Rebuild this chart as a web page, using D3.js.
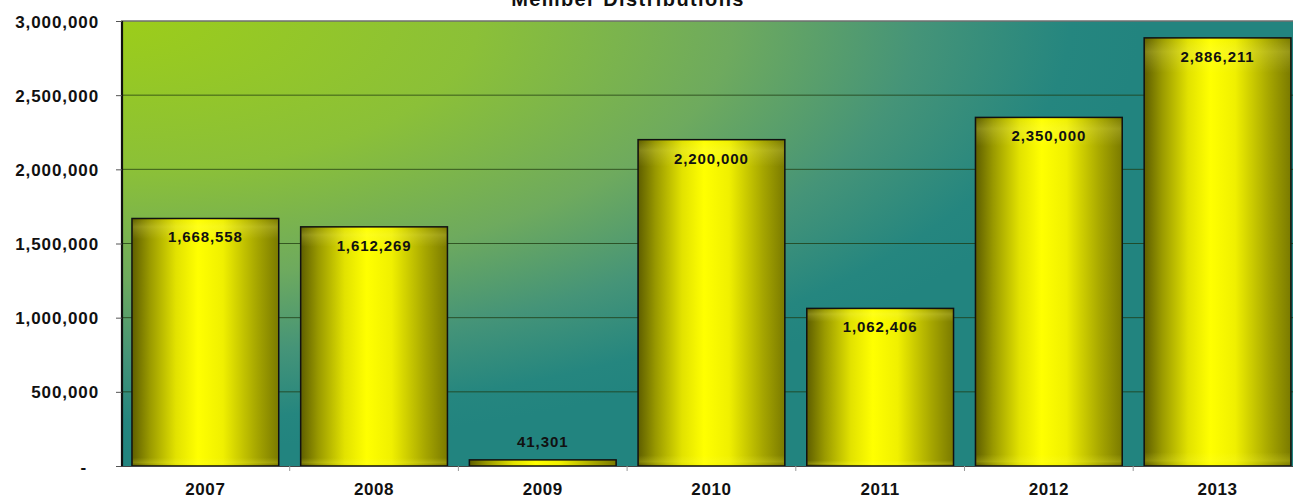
<!DOCTYPE html>
<html><head><meta charset="utf-8">
<script src="https://cdn.jsdelivr.net/npm/d3@7/dist/d3.min.js"></script>
<style>
html,body{margin:0;padding:0;background:#fff;overflow:hidden;}
text{font-family:"Liberation Sans",Arial,sans-serif;font-weight:bold;fill:#111;}
</style></head>
<body>
<svg id="chart" width="1293" height="499"></svg>
<script>
const title = "Member Distributions";
const categories = ["2007","2008","2009","2010","2011","2012","2013"];
const values = [1668558, 1612269, 41301, 2200000, 1062406, 2350000, 2886211];
const yTicks = [0, 500000, 1000000, 1500000, 2000000, 2500000, 3000000];

(function(){
const svg = d3.select("#chart");
const pLeft = 121, pTop = 21, pBottom = 466, step = 168.7;
const pRight = pLeft + step * categories.length;

const x = d3.scaleBand().domain(categories).range([pLeft, pRight]).paddingInner(0.13).paddingOuter(0.065);
const y = d3.scaleLinear().domain([0, 3000000]).range([pBottom, pTop]);

const defs = svg.append("defs");
const bg = defs.append("radialGradient").attr("id","bg").attr("gradientUnits","userSpaceOnUse")
  .attr("cx",0).attr("cy",0).attr("r",1).attr("fx",0).attr("fy",0)
  .attr("gradientTransform",`translate(${pLeft},${pTop}) scale(1020,430)`);
[[0,"#9ccd1a"],[0.35,"#8bc038"],[0.6,"#6eaa5e"],[0.78,"#459478"],[0.93,"#25867f"],[1,"#22847f"]]
  .forEach(([o,c])=>bg.append("stop").attr("offset",o).attr("stop-color",c));

const bar = defs.append("linearGradient").attr("id","bar").attr("x1",0).attr("y1",0).attr("x2",1).attr("y2",0);
[[0,"#5e5e00"],[0.12,"#999900"],[0.3,"#e2e200"],[0.45,"#ffff00"],[0.62,"#f0f000"],[0.85,"#a6a600"],[1,"#7a7a00"]]
  .forEach(([o,c])=>bar.append("stop").attr("offset",o).attr("stop-color",c));
const shine = defs.append("linearGradient").attr("id","shine").attr("x1",0).attr("y1",0).attr("x2",0).attr("y2",1);
[[0,"#ffff99",0.0],[0.03,"#ffff80",0.2],[0.08,"#ffff80",0],[0.97,"#ffff40",0],[0.99,"#ffff40",0.2],[1,"#ffff40",0]]
  .forEach(([o,c,a])=>shine.append("stop").attr("offset",o).attr("stop-color",c).attr("stop-opacity",a));

svg.append("rect").attr("x",pLeft).attr("y",pTop).attr("width",pRight-pLeft).attr("height",pBottom-pTop).attr("fill","url(#bg)");

svg.append("g").selectAll("line").data(yTicks.filter(d=>d>0 && d<3000000)).join("line")
  .attr("x1",pLeft).attr("x2",pRight).attr("y1",d=>y(d)).attr("y2",d=>y(d))
  .attr("stroke","#1f3a10").attr("stroke-opacity",0.75).attr("stroke-width",1);
svg.append("line").attr("x1",pLeft).attr("x2",pRight).attr("y1",y(3000000)).attr("y2",y(3000000))
  .attr("stroke","#6f6f6f").attr("stroke-width",1.5);

const bars = svg.append("g");
bars.selectAll("rect.b").data(values).join("rect").attr("class","b")
  .attr("x",(d,i)=>x(categories[i])).attr("width",x.bandwidth())
  .attr("y",d=>y(d)).attr("height",d=>pBottom-y(d))
  .attr("fill","url(#bar)").attr("stroke","#111").attr("stroke-width",1.5);
bars.selectAll("rect.s").data(values).join("rect").attr("class","s")
  .attr("x",(d,i)=>x(categories[i])+1).attr("width",x.bandwidth()-2)
  .attr("y",d=>y(d)+1).attr("height",d=>Math.max(0,pBottom-y(d)-2))
  .attr("fill","url(#shine)");

const fmt = d3.format(",");
svg.append("g").selectAll("text").data(values).join("text")
  .attr("x",(d,i)=>x(categories[i])+x.bandwidth()/2)
  .attr("y",d=> (pBottom-y(d) < 30) ? y(d)-13 : y(d)+24)
  .attr("text-anchor","middle").style("font-size","15px").style("letter-spacing","0.9px")
  .text(d=>fmt(d));

const yAxis = svg.append("g").attr("transform",`translate(${pLeft+1},0)`)
  .call(d3.axisLeft(y).tickValues(yTicks).tickSize(6).tickPadding(17).tickFormat(d=>d===0?"-":fmt(d)));
yAxis.select(".domain").attr("stroke","#111").attr("stroke-width",2.2).attr("d",`M0,${pTop}V${pBottom}`);
yAxis.selectAll(".tick line").attr("stroke","#555");
yAxis.selectAll(".tick text").style("font-size","17px").style("letter-spacing","0.9px")
  .attr("font-family",null).attr("fill","#111").attr("dy","0.36em");
yAxis.selectAll(".tick text").filter(d=>d===0).attr("x",-35);

const xAxis = svg.append("g").attr("transform",`translate(0,${pBottom})`)
  .call(d3.axisBottom(x).tickSize(0).tickPadding(16));
xAxis.select(".domain").attr("stroke","#444").attr("stroke-width",1).attr("d",`M${pLeft},0.5H${pRight}`);
xAxis.selectAll(".tick text").style("font-size","17px").style("letter-spacing","0.6px")
  .attr("font-family",null).attr("fill","#111").attr("dy","0.75em");
svg.append("g").selectAll("line").data(d3.range(1,categories.length)).join("line")
  .attr("x1",i=>pLeft+i*step).attr("x2",i=>pLeft+i*step).attr("y1",pBottom).attr("y2",pBottom+5)
  .attr("stroke","#999").attr("stroke-width",1);

svg.append("text").attr("x",628).attr("y",6).attr("text-anchor","middle")
  .style("font-size","20px").style("letter-spacing","1.4px").text(title);
})();
</script>
</body></html>
